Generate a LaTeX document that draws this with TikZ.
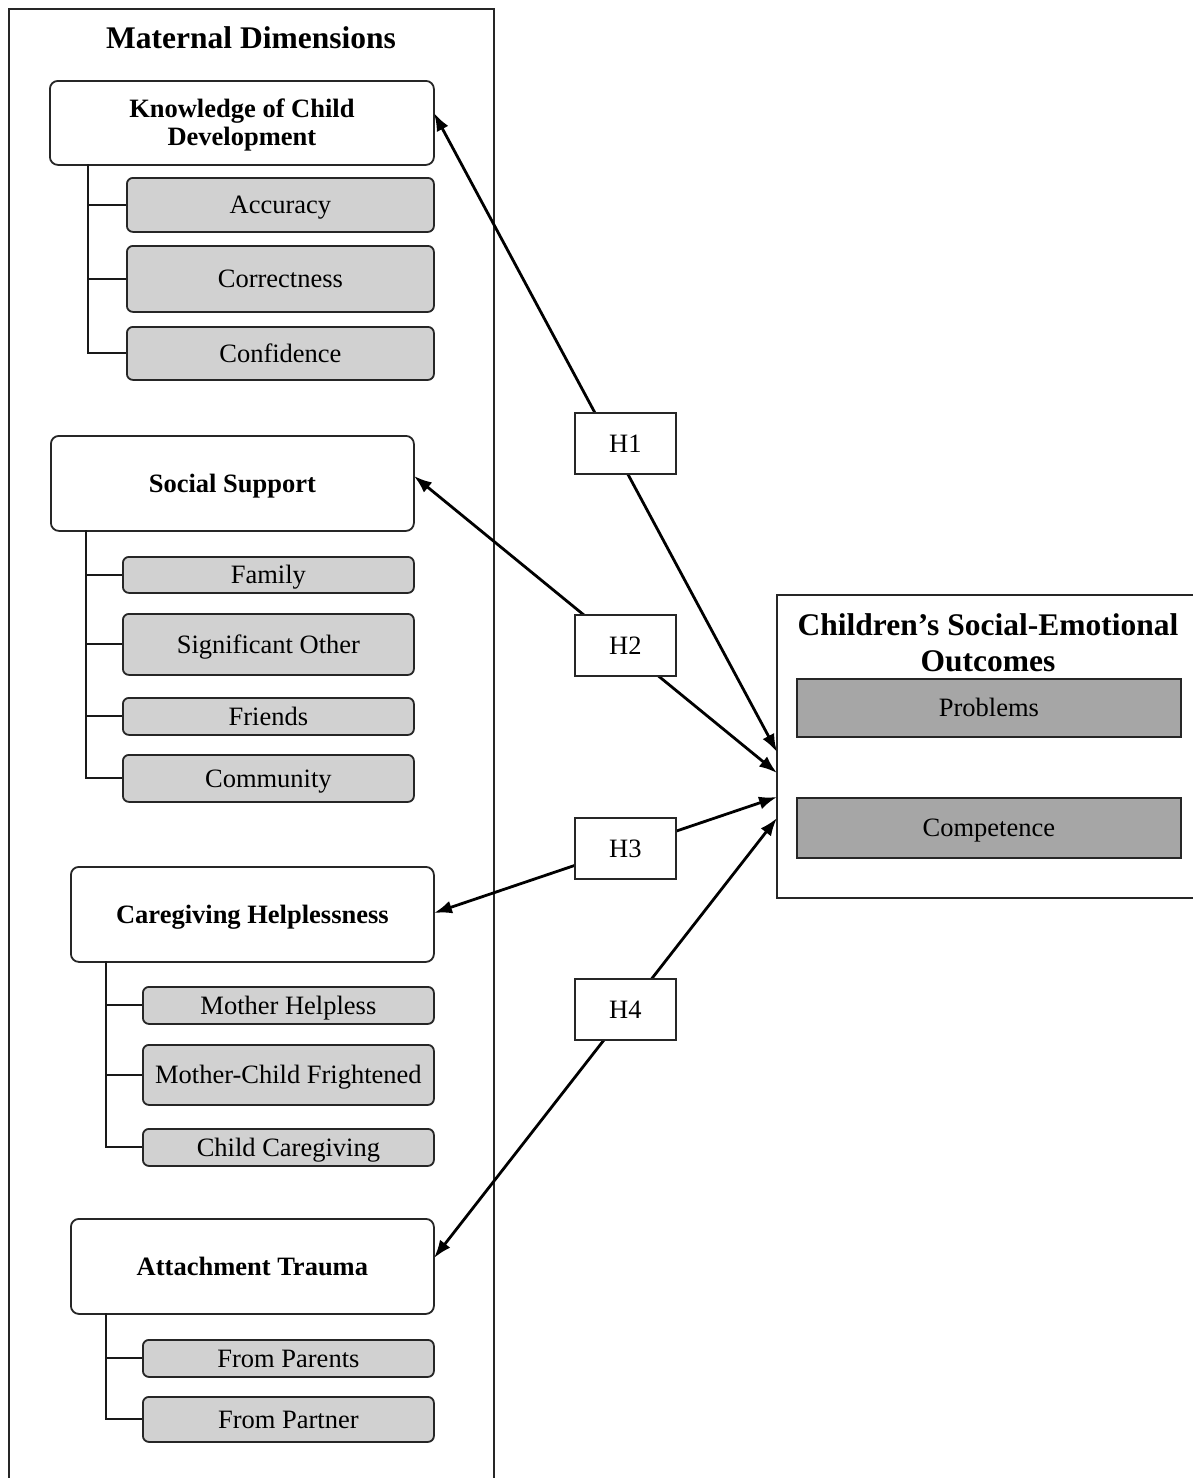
\documentclass[tikz,border=0pt]{standalone}
\usepackage{fontspec}
\setmainfont{Liberation Serif}
\usetikzlibrary{arrows.meta}
\tikzset{
  frame/.style={draw=black!85, line width=1.8pt},
  oneline/.style={text height=19pt, text depth=1.5pt},
  headbox/.style={draw=black!85, line width=1.8pt, fill=white, rounded corners=8pt, anchor=north west, inner sep=0pt, align=center, font=\fontsize{26.5}{28}\selectfont\bfseries},
  subbox/.style={draw=black!85, line width=1.8pt, fill=black!18, rounded corners=6pt, anchor=north west, inner sep=0pt, oneline, font=\fontsize{26.5}{30}\selectfont},
  outbox/.style={draw=black!85, line width=1.8pt, fill=black!35, anchor=north west, inner sep=0pt, oneline, font=\fontsize{26.5}{30}\selectfont},
  hbox/.style={draw=black!85, line width=1.8pt, fill=white, anchor=north west, inner sep=0pt, oneline, minimum width=101pt, minimum height=61pt, font=\fontsize{26.5}{30}\selectfont},
  tree/.style={draw=black!90, line width=2pt},
  conn/.style={draw=black, line width=2.8pt, {Latex[length=18pt,width=13pt]}-{Latex[length=18pt,width=13pt]}},
  title/.style={inner sep=0pt, font=\fontsize{31.5}{36}\selectfont\bfseries, align=center}
}
\begin{document}
\begin{tikzpicture}[x=1pt,y=-1pt]
\useasboundingbox (0,0) rectangle (1192,1478);
\fill[white] (0,0) rectangle (1192,1478);

% outer frames
\draw[frame] (9,1500) -- (9,9) -- (494,9) -- (494,1500);
\draw[frame] (1210,595) -- (777,595) -- (777,898) -- (1210,898);
\node[title] (mdtitle) at (251,38) {Maternal Dimensions};
\node[title] (cotitle) at (988,643) {Children’s Social-Emotional\\Outcomes};

% Knowledge of Child Development
\node[headbox, minimum width=384pt, minimum height=84pt, text depth=1.5pt] (kcd) at (49,80) {Knowledge of Child\\Development};
\node[subbox, minimum width=307pt, minimum height=54pt] (acc) at (126,177) {Accuracy};
\node[subbox, minimum width=307pt, minimum height=66pt] (cor) at (126,245) {Correctness};
\node[subbox, minimum width=307pt, minimum height=53pt] (con) at (126,326) {Confidence};
\coordinate (kt) at (88,164);
\draw[tree] (kt) |- (con.west);
\draw[tree] (kt |- acc.west) -- (acc.west);
\draw[tree] (kt |- cor.west) -- (cor.west);

% Social Support
\node[headbox, oneline, minimum width=363pt, minimum height=95pt] (ss) at (50,435) {Social Support};
\node[subbox, minimum width=291pt, minimum height=36pt] (fam) at (122,556) {Family};
\node[subbox, minimum width=291pt, minimum height=61pt] (sig) at (122,613) {Significant Other};
\node[subbox, minimum width=291pt, minimum height=37pt] (fri) at (122,697) {Friends};
\node[subbox, minimum width=291pt, minimum height=47pt] (com) at (122,754) {Community};
\coordinate (st) at (86,530);
\draw[tree] (st) |- (com.west);
\draw[tree] (st |- fam.west) -- (fam.west);
\draw[tree] (st |- sig.west) -- (sig.west);
\draw[tree] (st |- fri.west) -- (fri.west);

% Caregiving Helplessness
\node[headbox, oneline, minimum width=363pt, minimum height=95pt] (ch) at (70,866) {Caregiving Helplessness};
\node[subbox, minimum width=291pt, minimum height=37pt] (mh) at (142,986) {Mother Helpless};
\node[subbox, minimum width=291pt, minimum height=60pt] (mcf) at (142,1044) {Mother-Child Frightened};
\node[subbox, minimum width=291pt, minimum height=37pt] (cc) at (142,1128) {Child Caregiving};
\coordinate (ct) at (106,961);
\draw[tree] (ct) |- (cc.west);
\draw[tree] (ct |- mh.west) -- (mh.west);
\draw[tree] (ct |- mcf.west) -- (mcf.west);

% Attachment Trauma
\node[headbox, oneline, minimum width=363pt, minimum height=95pt] (at) at (70,1218) {Attachment Trauma};
\node[subbox, minimum width=291pt, minimum height=37pt] (fp) at (142,1339) {From Parents};
\node[subbox, minimum width=291pt, minimum height=45pt] (fpa) at (142,1396) {From Partner};
\coordinate (att) at (106,1313);
\draw[tree] (att) |- (fpa.west);
\draw[tree] (att |- fp.west) -- (fp.west);

% Outcomes
\node[outbox, minimum width=384pt, minimum height=58pt] (prob) at (796,678) {Problems};
\node[outbox, minimum width=384pt, minimum height=60pt] (comp) at (796,797) {Competence};

% connector end points
\coordinate (k1) at (434,113);
\coordinate (t1) at (777,752);
\coordinate (k2) at (414,476);
\coordinate (t2) at (777,773);
\coordinate (k3) at (434,913);
\coordinate (t3) at (777,797);
\coordinate (k4) at (434,1258);
\coordinate (t4) at (777,818);
\draw[conn] (k1) -- (t1);
\draw[conn] (k2) -- (t2);
\draw[conn] (k3) -- (t3);
\draw[conn] (k4) -- (t4);

% hypothesis boxes
\node[hbox] (h1) at (574,412) {H1};
\node[hbox] (h2) at (574,614) {H2};
\node[hbox] (h3) at (574,817) {H3};
\node[hbox] (h4) at (574,978) {H4};
\end{tikzpicture}
\end{document}
